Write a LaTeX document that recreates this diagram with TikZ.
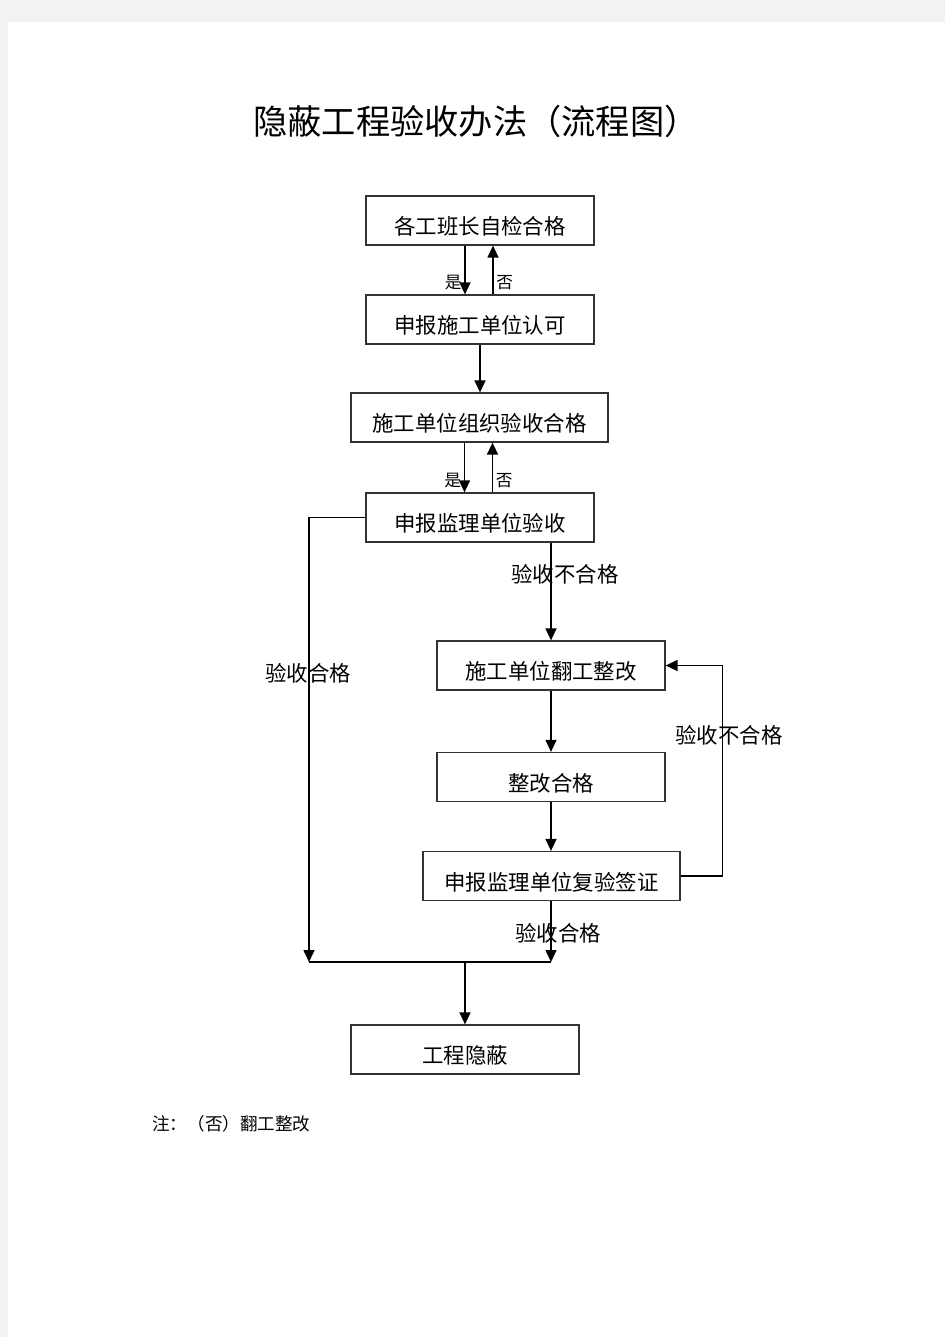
\documentclass[tikz,border=0pt]{standalone}
\usepackage{fontspec}
\setmainfont{Noto Sans CJK SC}
\usepackage{tikz}
\usetikzlibrary{arrows.meta}

\begin{document}
\begin{tikzpicture}[x=0.2mm,y=-0.2mm,
    stepbox/.style={draw=black!80,line width=0.25mm,minimum height=9.8mm,inner sep=0pt,
      font=\fontsize{12.2}{14}\selectfont,text height=1.6em,text depth=0pt},
    flow/.style={line width=0.3mm,-{Triangle[width=2.2mm,length=2.4mm]}},
    yesno/.style={font=\fontsize{9.5}{11}\selectfont,inner sep=1.5pt},
    lbl/.style={font=\fontsize{12.2}{14}\selectfont,inner sep=0pt}]
    % page
    \fill[black!5] (0,0) rectangle (945,1337);
    \fill[white] (8,22) rectangle (945,1337);
    \useasboundingbox (0,0) rectangle (945,1337);

    \node[font=\fontsize{19.5}{22}\selectfont] (title) at (476,121) {隐蔽工程验收办法（流程图）};

    \node[stepbox,minimum width=45.6mm] (selfcheck) at (480,220.5) {各工班长自检合格};
    \node[stepbox,minimum width=45.6mm] (apply) at (480,319.5) {申报施工单位认可};
    \node[stepbox,minimum width=51.4mm] (unitcheck) at (479.5,417.5) {施工单位组织验收合格};
    \node[stepbox,minimum width=45.6mm] (supervise) at (480,517.5) {申报监理单位验收};
    \node[stepbox,minimum width=45.6mm] (rework) at (551,665.5) {施工单位翻工整改};
    \node[stepbox,minimum width=45.6mm] (fixed) at (551,777) {整改合格};
    \node[stepbox,minimum width=51.4mm] (recheck) at (551.5,876) {申报监理单位复验签证};
    \node[stepbox,minimum width=45.6mm] (conceal) at (465,1049.5) {工程隐蔽};

    \coordinate (leftdrop) at (309,962);
    \coordinate (rightdrop) at (551,962);

    % yes / no
    \draw[flow] ([xshift=-3mm]selfcheck.south) -- ([xshift=-3mm]apply.north) node[yesno,pos=0.76,left] {是};
    \draw[flow] ([xshift=2.6mm]apply.north) -- ([xshift=2.6mm]selfcheck.south) node[yesno,pos=0.24,right] {否};
    \draw[flow] (apply.south) -- (apply.south |- unitcheck.north);
    \draw[flow] ([xshift=-3mm]unitcheck.south) -- ([xshift=-3mm]unitcheck.south |- supervise.north) node[yesno,pos=0.76,left] {是};
    \draw[flow] ([xshift=2.6mm]unitcheck.south |- supervise.north) -- ([xshift=2.6mm]unitcheck.south) node[yesno,pos=0.24,right] {否};

    % rework branch
    \draw[flow] (rework.north |- supervise.south) -- (rework.north) node[lbl,pos=0.32,xshift=2.8mm] {验收不合格};
    \draw[flow] (rework) -- (fixed);
    \draw[flow] (fixed.south) -- (fixed.south |- recheck.north);
    \draw[flow] (recheck.east) -- ++(42,0) |- (rework.east);
    \node[lbl] (failagain) at (729,735) {验收不合格};

    % pass
    \draw[flow] (supervise.west) -| (leftdrop);
    \node[lbl] (passleft) at (308,673) {验收合格};
    \draw[flow] (rightdrop |- recheck.south) -- (rightdrop) node[lbl,pos=0.52,xshift=1.4mm] {验收合格};
    \draw[line width=0.5mm] (leftdrop) -- (rightdrop);
    \draw[flow] (conceal.north |- leftdrop) -- (conceal.north);

    \node[anchor=west,inner sep=0pt,font=\fontsize{10}{12}\selectfont] (note) at (152,1124) {注：（否）翻工整改};
\end{tikzpicture}
\end{document}
